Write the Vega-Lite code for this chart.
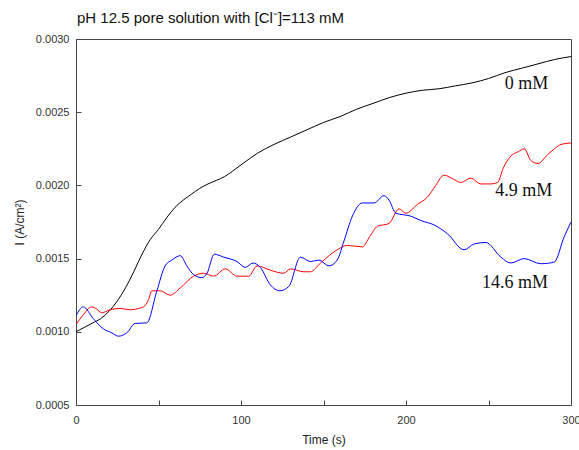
{
  "$schema": "https://vega.github.io/schema/vega-lite/v6.json",
  "width": 495,
  "height": 366,
  "autosize": "none",
  "padding": {"left": 76, "top": 39, "right": 8, "bottom": 45},
  "background": "white",
  "title": {"text": "pH 12.5 pore solution with [Cl⁻]=113 mM", "anchor": "start", "frame": "group", "font": "Liberation Sans", "fontSize": 15, "fontWeight": "normal", "color": "#111", "offset": 7, "dx": 1},
  "config": {
    "view": {"stroke": "#444", "strokeWidth": 1},
    "axis": {"grid": false, "domain": false, "ticks": true, "tickSize": -5, "tickColor": "#444", "labelFlush": false, "labelOverlap": false, "labelFont": "Liberation Sans", "labelFontSize": 11, "labelColor": "#333", "titleFont": "Liberation Sans", "titleFontSize": 12, "titleFontWeight": "normal", "titleColor": "#222"}
  },
  "datasets": {
    "lines": [
      {"s": "0", "t": 0, "I": 0.00100}, {"s": "0", "t": 5, "I": 0.00103}, {"s": "0", "t": 10, "I": 0.00106}, {"s": "0", "t": 15, "I": 0.00109}, {"s": "0", "t": 20, "I": 0.00114}, {"s": "0", "t": 25, "I": 0.00121}, {"s": "0", "t": 30, "I": 0.00130}, {"s": "0", "t": 35, "I": 0.00141}, {"s": "0", "t": 40, "I": 0.00153}, {"s": "0", "t": 45, "I": 0.00163}, {"s": "0", "t": 50, "I": 0.00170}, {"s": "0", "t": 55, "I": 0.00178}, {"s": "0", "t": 60, "I": 0.00185}, {"s": "0", "t": 65, "I": 0.00190}, {"s": "0", "t": 70, "I": 0.00194}, {"s": "0", "t": 75, "I": 0.00198}, {"s": "0", "t": 80, "I": 0.00201}, {"s": "0", "t": 90, "I": 0.00206}, {"s": "0", "t": 100, "I": 0.00214}, {"s": "0", "t": 110, "I": 0.00222}, {"s": "0", "t": 120, "I": 0.00228}, {"s": "0", "t": 130, "I": 0.00233}, {"s": "0", "t": 140, "I": 0.00238}, {"s": "0", "t": 150, "I": 0.00243}, {"s": "0", "t": 160, "I": 0.00247}, {"s": "0", "t": 170, "I": 0.00252}, {"s": "0", "t": 180, "I": 0.00256}, {"s": "0", "t": 190, "I": 0.00260}, {"s": "0", "t": 200, "I": 0.00263}, {"s": "0", "t": 210, "I": 0.00265}, {"s": "0", "t": 220, "I": 0.00266}, {"s": "0", "t": 230, "I": 0.00268}, {"s": "0", "t": 240, "I": 0.00270}, {"s": "0", "t": 250, "I": 0.00273}, {"s": "0", "t": 260, "I": 0.00277}, {"s": "0", "t": 270, "I": 0.00280}, {"s": "0", "t": 280, "I": 0.00283}, {"s": "0", "t": 290, "I": 0.00286}, {"s": "0", "t": 300, "I": 0.00288},
      {"s": "4.9", "t": 0, "I": 0.00105}, {"s": "4.9", "t": 4, "I": 0.00111}, {"s": "4.9", "t": 9.5, "I": 0.00117}, {"s": "4.9", "t": 12, "I": 0.00116}, {"s": "4.9", "t": 15.6, "I": 0.00113}, {"s": "4.9", "t": 20.6, "I": 0.00115}, {"s": "4.9", "t": 26.7, "I": 0.00116}, {"s": "4.9", "t": 32.8, "I": 0.00115}, {"s": "4.9", "t": 38, "I": 0.00116}, {"s": "4.9", "t": 40.9, "I": 0.00117}, {"s": "4.9", "t": 44, "I": 0.00122}, {"s": "4.9", "t": 46, "I": 0.00128}, {"s": "4.9", "t": 51, "I": 0.00128}, {"s": "4.9", "t": 57.1, "I": 0.00125}, {"s": "4.9", "t": 63.2, "I": 0.00130}, {"s": "4.9", "t": 71.3, "I": 0.00138}, {"s": "4.9", "t": 77.3, "I": 0.00140}, {"s": "4.9", "t": 83.4, "I": 0.00138}, {"s": "4.9", "t": 90.5, "I": 0.00143}, {"s": "4.9", "t": 97.6, "I": 0.00138}, {"s": "4.9", "t": 104.7, "I": 0.00138}, {"s": "4.9", "t": 109.7, "I": 0.00145}, {"s": "4.9", "t": 118, "I": 0.00142}, {"s": "4.9", "t": 125.9, "I": 0.00140}, {"s": "4.9", "t": 130, "I": 0.00143}, {"s": "4.9", "t": 138, "I": 0.00141}, {"s": "4.9", "t": 142, "I": 0.00141}, {"s": "4.9", "t": 148.2, "I": 0.00147}, {"s": "4.9", "t": 158.3, "I": 0.00156}, {"s": "4.9", "t": 164.4, "I": 0.00159}, {"s": "4.9", "t": 173.5, "I": 0.00158}, {"s": "4.9", "t": 178, "I": 0.00165}, {"s": "4.9", "t": 182.6, "I": 0.00172}, {"s": "4.9", "t": 189.7, "I": 0.00174}, {"s": "4.9", "t": 195.8, "I": 0.00184}, {"s": "4.9", "t": 199.8, "I": 0.00181}, {"s": "4.9", "t": 206.9, "I": 0.00187}, {"s": "4.9", "t": 213, "I": 0.00192}, {"s": "4.9", "t": 218, "I": 0.00200}, {"s": "4.9", "t": 223, "I": 0.00207}, {"s": "4.9", "t": 229.1, "I": 0.00204}, {"s": "4.9", "t": 233.2, "I": 0.00202}, {"s": "4.9", "t": 239.3, "I": 0.00205}, {"s": "4.9", "t": 245.3, "I": 0.00201}, {"s": "4.9", "t": 251.4, "I": 0.00201}, {"s": "4.9", "t": 255.5, "I": 0.00202}, {"s": "4.9", "t": 259, "I": 0.00212}, {"s": "4.9", "t": 263.5, "I": 0.00220}, {"s": "4.9", "t": 268, "I": 0.00223}, {"s": "4.9", "t": 271.6, "I": 0.00225}, {"s": "4.9", "t": 275.7, "I": 0.00217}, {"s": "4.9", "t": 280, "I": 0.00215}, {"s": "4.9", "t": 285.8, "I": 0.00221}, {"s": "4.9", "t": 290, "I": 0.00225}, {"s": "4.9", "t": 294, "I": 0.00228}, {"s": "4.9", "t": 300, "I": 0.00229},
      {"s": "14.6", "t": 0, "I": 0.00111}, {"s": "14.6", "t": 4.4, "I": 0.00117}, {"s": "14.6", "t": 10.5, "I": 0.00109}, {"s": "14.6", "t": 16.6, "I": 0.00102}, {"s": "14.6", "t": 21.7, "I": 0.000993}, {"s": "14.6", "t": 25.7, "I": 0.00097}, {"s": "14.6", "t": 30.8, "I": 0.000993}, {"s": "14.6", "t": 35.8, "I": 0.001057}, {"s": "14.6", "t": 42.9, "I": 0.001061}, {"s": "14.6", "t": 49, "I": 0.00128}, {"s": "14.6", "t": 54, "I": 0.00145}, {"s": "14.6", "t": 58.1, "I": 0.00149}, {"s": "14.6", "t": 63.2, "I": 0.00152}, {"s": "14.6", "t": 67.2, "I": 0.00145}, {"s": "14.6", "t": 71.3, "I": 0.00139}, {"s": "14.6", "t": 76.3, "I": 0.00137}, {"s": "14.6", "t": 79.4, "I": 0.00140}, {"s": "14.6", "t": 83.8, "I": 0.00153}, {"s": "14.6", "t": 89.5, "I": 0.00151}, {"s": "14.6", "t": 97.6, "I": 0.00148}, {"s": "14.6", "t": 102.6, "I": 0.00144}, {"s": "14.6", "t": 107.3, "I": 0.00147}, {"s": "14.6", "t": 111.7, "I": 0.00144}, {"s": "14.6", "t": 117.8, "I": 0.00132}, {"s": "14.6", "t": 123.5, "I": 0.00128}, {"s": "14.6", "t": 129, "I": 0.00131}, {"s": "14.6", "t": 136, "I": 0.00151}, {"s": "14.6", "t": 142.1, "I": 0.00148}, {"s": "14.6", "t": 147.2, "I": 0.00149}, {"s": "14.6", "t": 153.3, "I": 0.00145}, {"s": "14.6", "t": 158.3, "I": 0.00149}, {"s": "14.6", "t": 162.4, "I": 0.00162}, {"s": "14.6", "t": 167.5, "I": 0.00179}, {"s": "14.6", "t": 173.5, "I": 0.00188}, {"s": "14.6", "t": 180.6, "I": 0.00188}, {"s": "14.6", "t": 186.7, "I": 0.00193}, {"s": "14.6", "t": 189.7, "I": 0.00190}, {"s": "14.6", "t": 193.8, "I": 0.00181}, {"s": "14.6", "t": 202.9, "I": 0.00179}, {"s": "14.6", "t": 209, "I": 0.00176}, {"s": "14.6", "t": 217, "I": 0.00173}, {"s": "14.6", "t": 225.1, "I": 0.00167}, {"s": "14.6", "t": 235.2, "I": 0.00156}, {"s": "14.6", "t": 241.3, "I": 0.00160}, {"s": "14.6", "t": 248.4, "I": 0.00161}, {"s": "14.6", "t": 257.5, "I": 0.00151}, {"s": "14.6", "t": 263.5, "I": 0.00147}, {"s": "14.6", "t": 271.6, "I": 0.00150}, {"s": "14.6", "t": 281.7, "I": 0.001465}, {"s": "14.6", "t": 289.8, "I": 0.001476}, {"s": "14.6", "t": 295.9, "I": 0.00165}, {"s": "14.6", "t": 300, "I": 0.00175}
    ],
    "labels": [
      {"s": "0", "t": 273, "I": 0.00269, "txt": "0 mM"},
      {"s": "4.9", "t": 271.4, "I": 0.001965, "txt": "4.9 mM"},
      {"s": "14.6", "t": 266, "I": 0.00133, "txt": "14.6 mM"}
    ]
  },
  "layer": [
    {
      "data": {"name": "lines"},
      "mark": {"type": "line", "strokeWidth": 1, "interpolate": "monotone", "clip": true},
      "encoding": {
        "x": {"field": "t", "type": "quantitative", "scale": {"domain": [0, 300], "nice": false}, "axis": {"title": "Time (s)", "values": [0, 50, 100, 150, 200, 250, 300], "labelExpr": "datum.value % 100 === 0 ? datum.label : ''", "labelPadding": 14, "titlePadding": 9}},
        "y": {"field": "I", "type": "quantitative", "scale": {"domain": [0.0005, 0.003], "nice": false, "zero": false}, "axis": {"title": "I (A/cm²)", "values": [0.0005, 0.00075, 0.001, 0.00125, 0.0015, 0.00175, 0.002, 0.00225, 0.0025, 0.00275, 0.003], "labelExpr": "round(datum.value * 20000) % 2 === 0 ? format(datum.value, '.4f') : ''", "labelPadding": 12, "titlePadding": 9}},
        "color": {"field": "s", "type": "nominal", "scale": {"domain": ["0", "4.9", "14.6"], "range": ["#000000", "#ff0000", "#0000ff"]}, "legend": null}
      }
    },
    {
      "data": {"name": "labels"},
      "mark": {"type": "text", "font": "Liberation Serif", "fontSize": 18, "align": "center", "baseline": "middle", "color": "#111"},
      "encoding": {
        "x": {"field": "t", "type": "quantitative"},
        "y": {"field": "I", "type": "quantitative"},
        "text": {"field": "txt"}
      }
    }
  ]
}
